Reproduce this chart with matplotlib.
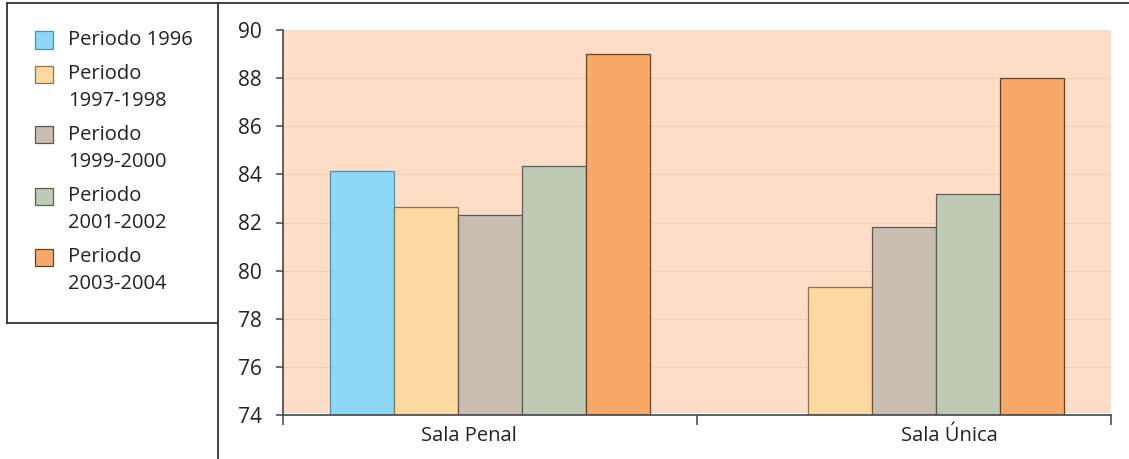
import numpy as np
import matplotlib.pyplot as plt
from matplotlib.patches import Rectangle
from matplotlib.lines import Line2D

plt.rcParams['font.family'] = ['Open Sans', 'DejaVu Sans']

salas = ['Sala Penal', 'Sala Única']
periodos = ['Periodo 1996', 'Periodo\n1997-1998', 'Periodo\n1999-2000',
            'Periodo\n2001-2002', 'Periodo\n2003-2004']
# one row per period, one value per sala (no 1996 figure for Sala Única)
valores = [
    [84.15, np.nan],
    [82.65, 79.3],
    [82.3, 81.8],
    [84.35, 83.2],
    [89.0, 88.0],
]
colores = ['#8DD8F6', '#FED8A1', '#C9BDB1', '#BECAB3', '#F8A867']
bordes = ['#4F8FB0', '#8A7550', '#5E5750', '#5A5E55', '#5A4535']

W, H = 1129, 459
fig = plt.figure(figsize=(W / 100, H / 100), dpi=100)

# axes placed in pixel terms
x0, x1, y0, y1 = 283, 1111, 30, 415
ax = fig.add_axes([x0 / W, 1 - y1 / H, (x1 - x0) / W, (y1 - y0) / H])
ax.set_facecolor('white')

ax.set_xlim(-0.5, 1.5)
ax.set_ylim(74, 90)

# peach background, stops just above the axis line
ax.add_patch(Rectangle((-0.5, 74.12), 2.0, 90 - 74.12, facecolor='#FDDDC6',
                       edgecolor='#E6DCD6', lw=0.8, zorder=0))
for yv in range(76, 90, 2):
    ax.axhline(yv, color='#F2CCB6', lw=0.8, zorder=0.5)

x = np.arange(len(salas))
bw = 0.155
n = len(periodos)
for i in range(n):
    off = (i - (n - 1) / 2) * bw
    v = np.array(valores[i], dtype=float)
    ax.bar(x + off, v - 74, bw, bottom=74, color=colores[i],
           edgecolor=bordes[i], linewidth=0.9, zorder=2)

for s in ['top', 'right']:
    ax.spines[s].set_visible(False)
for s in ['left', 'bottom']:
    ax.spines[s].set_color('#444444')
    ax.spines[s].set_linewidth(1.2)
ax.spines['bottom'].set_zorder(3)

ax.set_yticks(range(74, 91, 2))
ax.tick_params(axis='y', direction='out', length=5, width=1.1, color='#444444',
               labelsize=15, labelcolor='#222222', pad=10)
ax.set_xticks([-0.5, 0.5, 1.5])
ax.set_xticklabels([])
ax.tick_params(axis='x', which='major', direction='out', length=7, width=1.1,
               color='#444444')
# category names sit a little off the group centres
ax.set_xticks(x + np.array([-0.05, 0.11]), minor=True)
ax.set_xticklabels(salas, minor=True)
ax.tick_params(axis='x', which='minor', length=0, labelsize=14.5,
               labelcolor='#222222', pad=8)

# outer frame and legend box
def px_line(xs, ys):
    fig.add_artist(Line2D([a / W for a in xs], [1 - b / H for b in ys],
                          transform=fig.transFigure, color='#333333', lw=1.3))

px_line([7, W], [3, 3])
px_line([218, 218], [3, H])
px_line([7, 7], [3, 323])
px_line([7, 218], [323, 323])

# legend drawn by hand so the swatch sits on the first text line
yy = 40
for lbl, c, e in zip(periodos, colores, bordes):
    fig.add_artist(Rectangle((35 / W, 1 - (yy + 8.5) / H), 18 / W, 17 / H,
                             facecolor=c, edgecolor=e, lw=0.9,
                             transform=fig.transFigure))
    lines = lbl.split('\n')
    for k, ln in enumerate(lines):
        fig.text(68 / W, 1 - (yy + k * 27) / H, ln, fontsize=14.5,
                 color='#222222', va='center', ha='left')
    yy += 34 + 27 * (len(lines) - 1)

plt.savefig('out.png', dpi=100)
